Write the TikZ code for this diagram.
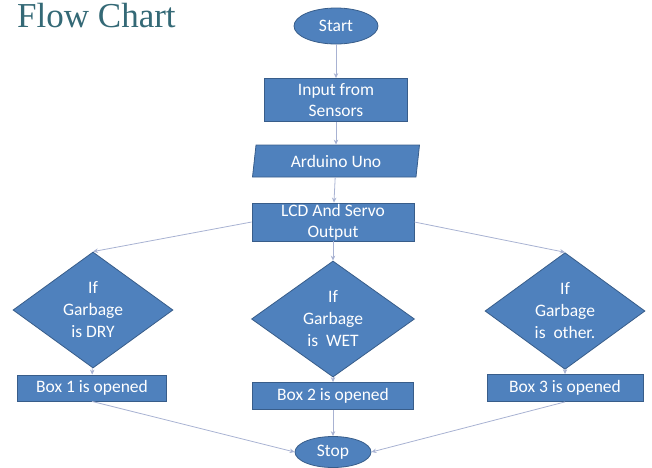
\documentclass[tikz,border=0pt]{standalone}
\usepackage{fontspec}
\setmainfont{Carlito}
\newfontfamily\titlefont{Liberation Serif}
\usetikzlibrary{shapes.geometric,arrows.meta}
\definecolor{boxfill}{HTML}{4F81BD}
\definecolor{boxline}{HTML}{385D8A}
\definecolor{conn}{RGB}{168,178,210}
\definecolor{titlecol}{RGB}{52,105,118}
\tikzset{
  base/.style={fill=boxfill,draw=boxline,line width=0.8pt,text=white,
    font=\fontsize{17.5}{21}\selectfont,align=center,inner sep=0pt},
  procbox/.style={base,rectangle},
  term/.style={base,ellipse},
  iobox/.style={base,trapezium,trapezium left angle=74,trapezium right angle=106,
    trapezium stretches body},
  decide/.style={base,diamond,font=\fontsize{17.5}{22}\selectfont},
  conn/.style={draw=conn,line width=0.8pt,-{Stealth[length=5pt,width=4.5pt]}}
}
\begin{document}
\begin{tikzpicture}[x=1pt,y=-1pt]
\useasboundingbox (0,0) rectangle (652,467);
\node[anchor=base west,text=titlecol,font=\titlefont\fontsize{35}{38}\selectfont,inner sep=0pt] (title) at (17,27) {Flow Chart};

\node[term,minimum width=84pt,minimum height=36pt] (start) at (336,26) {Start};
\node[procbox,minimum width=143pt,minimum height=43pt] (input) at (336,100) {Input from\\Sensors};
\node[iobox,minimum width=167pt,minimum height=32pt] (ard) at (336,161) {Arduino Uno};
\node[procbox,minimum width=162pt,minimum height=38pt] (lcd) at (333,222) {LCD And Servo\\Output};

\node[decide,minimum width=160pt,minimum height=98pt] (d1) at (93,310) {If\\Garbage\\is DRY};
\node[decide,minimum width=163pt,minimum height=98pt] (d2) at (333,319) {If\\Garbage\\is\ \ WET};
\node[decide,minimum width=160pt,minimum height=98pt] (d3) at (565,311) {If\\Garbage\\is\ \ other.};

\node[procbox,minimum width=149pt,minimum height=26pt] (b1) at (92,388) {Box 1 is opened};
\node[procbox,minimum width=161pt,minimum height=27pt] (b2) at (333,396) {Box 2 is opened};
\node[procbox,minimum width=156pt,minimum height=27pt] (b3) at (565,388) {Box 3 is opened};

\node[term,minimum width=76pt,minimum height=31pt] (stop) at (333,452) {Stop};

\draw[conn] (start) -- (input);
\draw[conn] (input) -- (ard);
\draw[conn] (ard) -- (lcd);
\draw[conn] (lcd.west) -- (d1.north);
\draw[conn] (lcd) -- (d2);
\draw[conn] (lcd.east) -- (d3.north);
\draw[conn] (d1) -- (b1);
\draw[conn] (d2) -- (b2);
\draw[conn] (d3) -- (b3);
\draw[conn] (b1.south) -- (stop.west);
\draw[conn] (b2) -- (stop);
\draw[conn] (b3.south) -- (stop.east);
\end{tikzpicture}
\end{document}
